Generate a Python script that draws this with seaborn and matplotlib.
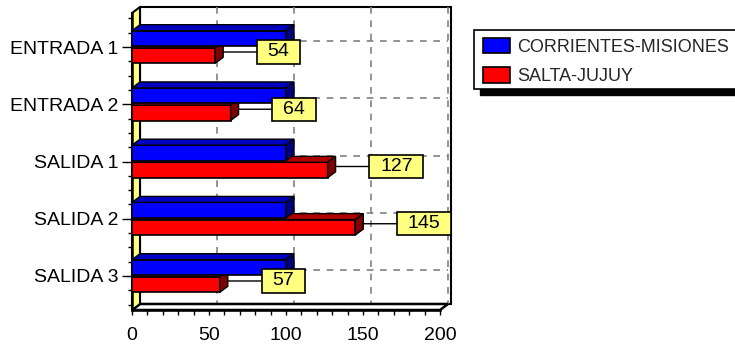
import matplotlib
matplotlib.use("Agg")
import matplotlib.pyplot as plt
import numpy as np
import pandas as pd
import seaborn as sns
from matplotlib.patches import Polygon, Rectangle, Patch
from matplotlib.path import Path
from matplotlib.ticker import MultipleLocator

# --- data -------------------------------------------------------------
tramos = ["ENTRADA 1", "ENTRADA 2", "SALIDA 1", "SALIDA 2", "SALIDA 3"]
series = ["CORRIENTES-MISIONES", "SALTA-JUJUY"]
corrientes = [100, 100, 100, 100, 100]
salta = [54, 64, 127, 145, 57]
x_ticks = [0, 50, 100, 150, 200]

# --- style ------------------------------------------------------------
sns.set_theme(style="white")
plt.rcParams["font.family"] = ["Liberation Sans", "DejaVu Sans"]
FS = 14
FS_LEG = 13
face = ["#0000FF", "#FF0000"]
top_col = ["#0000C0", "#B00000"]
side_col = ["#000080", "#800000"]
wall_yellow = "#FFFF80"
grid_gray = "#808080"

W, H = 735, 347
fig = plt.figure(figsize=(W / 100, H / 100), dpi=100)
fig.patch.set_facecolor("white")

# front plane of the plot (pixel box)
L, R, T, B = 132, 440, 13, 310
ax = fig.add_axes([L / W, 1 - B / H, (R - L) / W, (B - T) / H])
ax.set_facecolor("none")

df = pd.DataFrame({
    "tramo": tramos * 2,
    "serie": [series[0]] * len(tramos) + [series[1]] * len(tramos),
    "valor": corrientes + salta,
})
sns.barplot(data=df, x="valor", y="tramo", hue="serie", orient="h",
            palette=face, saturation=1, width=0.6, gap=0.1,
            edgecolor="black", linewidth=1.2, legend=False, ax=ax)

xmin, xmax = x_ticks[0], x_ticks[-1]
span = (B - T) / 57.25
ymin, ymax = 2 - span / 2, 2 + span / 2
ax.set_xlim(xmin, xmax)
ax.set_ylim(ymax, ymin)

# depth of the 3D projection, in data units
px_x = (R - L) / (xmax - xmin)
px_y = (B - T) / span
dx = 8 / px_x
dy = -6 / px_y

# back wall
ax.add_patch(Polygon([(xmin + dx, ymin + dy), (xmax + dx + 2, ymin + dy),
                      (xmax + dx + 2, ymax + dy), (xmin + dx, ymax + dy)],
                     closed=True, fc="white", ec="black", lw=1.5,
                     zorder=0.5, clip_on=False))
# dashed grid on the back wall
for v in x_ticks[1:]:
    ax.plot([v + dx, v + dx], [ymin + dy, ymax + dy], color=grid_gray,
            lw=1.2, ls=(0, (4, 4)), zorder=0.6, clip_on=False)
for i in range(len(tramos)):
    ax.plot([xmin + dx, xmax + dx], [i + dy, i + dy], color=grid_gray,
            lw=1.2, ls=(0, (4, 4)), zorder=0.6, clip_on=False)

# floor
ax.add_patch(Polygon([(xmin, ymax), (xmax, ymax), (xmax + dx, ymax + dy),
                      (xmin + dx, ymax + dy)], closed=True, fc="white",
                     ec="black", lw=1.8, zorder=1, clip_on=False))
# left wall
ax.add_patch(Polygon([(xmin, ymin), (xmin, ymax), (xmin + dx, ymax + dy),
                      (xmin + dx, ymin + dy)], closed=True, fc=wall_yellow,
                     ec="black", lw=1.5, zorder=1, clip_on=False))

# 3D faces of the bars (blue series sits in front of the red tops)
for k, cont in enumerate(ax.containers):
    z = 4 if k == 0 else 3
    for bar in cont:
        bar.set_zorder(z)
        x0, y0 = bar.get_x(), bar.get_y()
        w, h = bar.get_width(), bar.get_height()
        x1 = x0 + w
        ax.add_patch(Polygon([(x0, y0), (x1, y0), (x1 + dx, y0 + dy),
                              (x0 + dx, y0 + dy)], closed=True,
                             fc=top_col[k], ec="black", lw=1.0, zorder=z,
                             clip_on=False))
        ax.add_patch(Polygon([(x1, y0), (x1, y0 + h), (x1 + dx, y0 + h + dy),
                              (x1 + dx, y0 + dy)], closed=True,
                             fc=side_col[k], ec="black", lw=1.0, zorder=z,
                             clip_on=False))


def callout_box(x0, y0, width, height, mutation_size):
    """Rectangle with wide horizontal and narrow vertical padding."""
    px, py = 0.55 * mutation_size, 0.16 * mutation_size
    a, b = x0 - px, y0 - py
    c, d = x0 + width + px, y0 + height + py
    return Path([(a, b), (c, b), (c, d), (a, d), (a, b)], closed=True)


# value callouts for SALTA-JUJUY
for bar, v in zip(ax.containers[1], salta):
    yc = bar.get_y() + bar.get_height() / 2 + dy * 0.6
    xe = bar.get_x() + bar.get_width() + dx
    ax.annotate(f"{v}", xy=(xe, yc), xytext=(32.0, 0),
                textcoords="offset points", ha="left", va="center",
                fontsize=FS, color="black", zorder=6, annotation_clip=False,
                bbox=dict(boxstyle=callout_box, fc=wall_yellow,
                          ec="black", lw=1.2),
                arrowprops=dict(arrowstyle="-", color="black", lw=1.0,
                                shrinkA=0, shrinkB=0))

# axes, ticks and labels
for s in ["top", "right"]:
    ax.spines[s].set_visible(False)
for s in ["left", "bottom"]:
    ax.spines[s].set_color("black")
    ax.spines[s].set_linewidth(1.8)
ax.set_xticks(x_ticks)
ax.set_xticklabels([str(t) for t in x_ticks])
ax.xaxis.set_minor_locator(MultipleLocator(10))
ax.yaxis.set_minor_locator(MultipleLocator(0.25))
ax.tick_params(axis="x", which="both", direction="out", length=3.6,
               width=1, color="black", labelsize=FS, labelcolor="black",
               pad=8.5, bottom=True)
ax.tick_params(axis="y", which="major", direction="out", length=7,
               width=1, color="black", labelsize=FS, labelcolor="black",
               pad=2.5, left=True)
ax.tick_params(axis="y", which="minor", direction="out", length=2.8,
               width=1, color="black", left=True)
ax.set_xlabel("")
ax.set_ylabel("")
ax.grid(False)

# legend box with drop shadow
lx0, ly0, lx1, ly1 = 474, 30, 745, 89
fig.add_artist(Rectangle(((lx0 + 6) / W, 1 - (ly1 + 6) / H),
                         (lx1 - lx0) / W, (ly1 - ly0) / H,
                         transform=fig.transFigure, fc="black", ec="black"))
fig.add_artist(Rectangle((lx0 / W, 1 - ly1 / H), (lx1 - lx0) / W,
                         (ly1 - ly0) / H, transform=fig.transFigure,
                         fc="white", ec="black", lw=1.2))
handles = [Patch(fc=c, ec="black", lw=1.2) for c in face]
fig.legend(handles=handles, labels=series, loc="upper left",
           bbox_to_anchor=(483 / W, 1 - 38 / H), frameon=False,
           borderpad=0, borderaxespad=0, handlelength=1.5,
           handleheight=0.94, handletextpad=0.39, labelspacing=0.62,
           fontsize=FS_LEG)

fig.savefig("out.png", dpi=100, facecolor="white")
